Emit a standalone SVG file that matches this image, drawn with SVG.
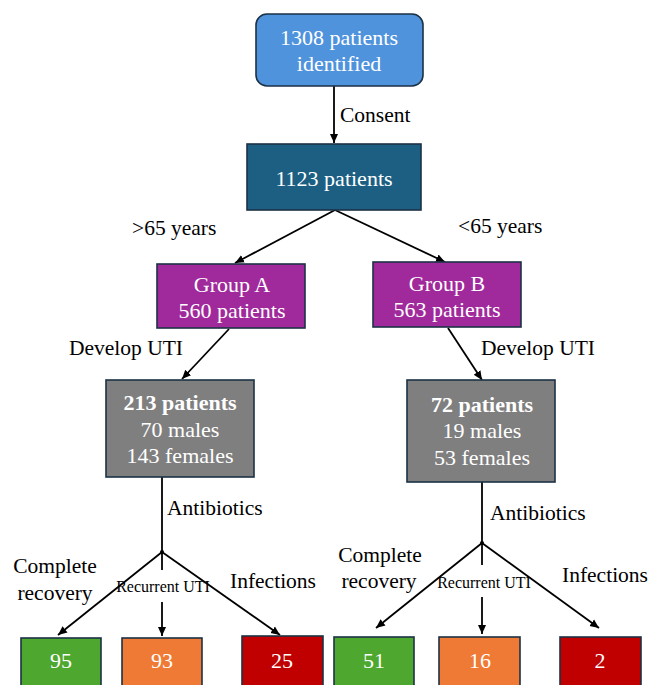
<svg xmlns="http://www.w3.org/2000/svg" width="652" height="685" viewBox="0 0 652 685" font-family="'Liberation Serif', 'Times New Roman', serif">
<defs>
<marker id="ah" markerWidth="10" markerHeight="10" refX="9" refY="5" orient="auto" markerUnits="userSpaceOnUse">
<path d="M0,1 L9,5 L0,9 Z" fill="#000"/>
</marker>
<style>
text{font-family:'Liberation Serif','Times New Roman',serif;}
.w{fill:#fff;font-size:22px;text-anchor:middle;}
.b{font-weight:bold;}
.l{fill:#000;font-size:21.5px;}
.s{fill:#000;font-size:16px;}
.box{stroke:#1c3145;stroke-width:1.6;}
.c{stroke:#000;stroke-width:1.8;fill:none;}
.a{marker-end:url(#ah);}
</style>
</defs>
<rect width="652" height="685" fill="#fff"/>

<g id="connectors">
<line class="c a" x1="334" y1="86" x2="334" y2="143"/>
<line class="c a" x1="335" y1="210" x2="235" y2="263"/>
<line class="c a" x1="335" y1="210" x2="445" y2="262"/>
<line class="c a" x1="229" y1="329" x2="182" y2="379"/>
<line class="c a" x1="448" y1="328" x2="482" y2="380"/>
<line class="c" x1="162" y1="477" x2="162" y2="552"/>
<line class="c a" x1="162" y1="552" x2="58" y2="635"/>
<line class="c" x1="162" y1="552" x2="162" y2="570"/>
<line class="c a" x1="162" y1="602" x2="162" y2="636"/>
<line class="c a" x1="162" y1="552" x2="280" y2="635"/>
<circle cx="162" cy="552" r="2" fill="#000"/>
<line class="c" x1="482" y1="482" x2="482" y2="543"/>
<line class="c a" x1="482" y1="543" x2="376" y2="628"/>
<line class="c" x1="482" y1="543" x2="482" y2="565"/>
<line class="c a" x1="482" y1="597" x2="482" y2="634"/>
<line class="c a" x1="482" y1="543" x2="599" y2="628"/>
<circle cx="482" cy="543" r="2" fill="#000"/>
</g>

<g id="labels">
<text class="l" x="340" y="122">Consent</text>
<text class="l" x="132" y="235">&gt;65 years</text>
<text class="l" x="458" y="233">&lt;65 years</text>
<text class="l" x="69" y="355">Develop UTI</text>
<text class="l" x="481" y="355">Develop UTI</text>
<text class="l" x="167" y="515">Antibiotics</text>
<text class="l" x="490" y="520">Antibiotics</text>
<text class="l" x="55" y="573" text-anchor="middle">Complete</text>
<text class="l" x="55" y="600" text-anchor="middle">recovery</text>
<text class="s" x="163" y="592" text-anchor="middle">Recurrent UTI</text>
<text class="l" x="230" y="588">Infections</text>
<text class="l" x="380" y="562" text-anchor="middle">Complete</text>
<text class="l" x="379" y="588" text-anchor="middle">recovery</text>
<text class="s" x="484" y="588" text-anchor="middle">Recurrent UTI</text>
<text class="l" x="562" y="582">Infections</text>
</g>

<g id="n1308">
<rect class="box" x="256" y="14" width="167" height="72" rx="11" fill="#4f93dd"/>
<text class="w" x="339" y="45">1308 patients</text>
<text class="w" x="339" y="71">identified</text>
</g>
<g id="n1123">
<rect class="box" x="247" y="144" width="174" height="66" fill="#1c5f83"/>
<text class="w" x="334" y="186">1123 patients</text>
</g>
<g id="groupA">
<rect class="box" x="157" y="264" width="148" height="64" fill="#a0299b"/>
<text class="w" x="232" y="292">Group A</text>
<text class="w" x="232" y="318">560 patients</text>
</g>
<g id="groupB">
<rect class="box" x="373" y="262" width="148" height="65" fill="#a0299b"/>
<text class="w" x="447" y="291">Group B</text>
<text class="w" x="447" y="317">563 patients</text>
</g>
<g id="utiA">
<rect class="box" x="106" y="380" width="148" height="97" fill="#7f7f7f"/>
<text class="w b" x="180" y="410">213 patients</text>
<text class="w" x="180" y="437">70 males</text>
<text class="w" x="180" y="463">143 females</text>
</g>
<g id="utiB">
<rect class="box" x="407" y="380" width="148" height="102" fill="#7f7f7f"/>
<text class="w b" x="482" y="412">72 patients</text>
<text class="w" x="482" y="438">19 males</text>
<text class="w" x="482" y="465">53 females</text>
</g>
<g id="a95">
<rect class="box" x="21" y="638" width="80" height="52" fill="#4ea72e"/>
<text class="w" x="61" y="668">95</text>
</g>
<g id="a93">
<rect class="box" x="122" y="638" width="80" height="52" fill="#ef7a35"/>
<text class="w" x="162" y="668">93</text>
</g>
<g id="a25">
<rect class="box" x="242" y="636" width="81" height="54" fill="#c00000"/>
<text class="w" x="282" y="668">25</text>
</g>
<g id="b51">
<rect class="box" x="334" y="637" width="80" height="53" fill="#4ea72e"/>
<text class="w" x="374" y="668">51</text>
</g>
<g id="b16">
<rect class="box" x="439" y="637" width="81" height="53" fill="#ef7a35"/>
<text class="w" x="480" y="668">16</text>
</g>
<g id="b2">
<rect class="box" x="560" y="637" width="81" height="53" fill="#c00000"/>
<text class="w" x="600" y="668">2</text>
</g>
</svg>
